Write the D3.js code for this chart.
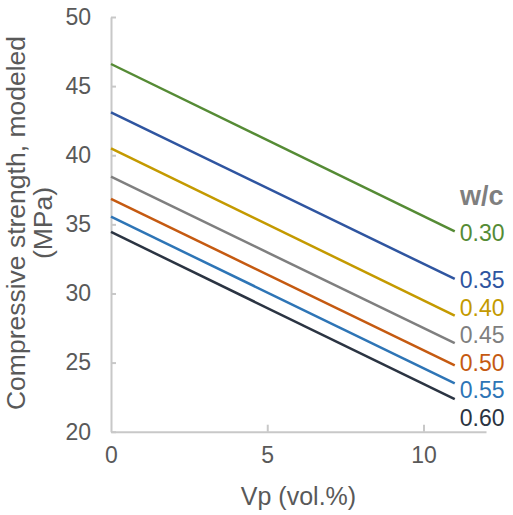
<!DOCTYPE html>
<html>
<head>
<meta charset="utf-8">
<script src="https://cdn.jsdelivr.net/npm/d3@7"></script>
<style>
  html, body { margin: 0; padding: 0; background: #fff; }
  svg { display: block; font-family: "Liberation Sans", Arial, sans-serif; }
</style>
</head>
<body>
<svg id="chart" width="513" height="515"></svg>
<script>
// ---- data ----
const seriesNames = ["0.30", "0.35", "0.40", "0.45", "0.50", "0.55", "0.60"];
const vpValues = [0, 11];
const strengthAt0 = [46.6, 43.1, 40.5, 38.45, 36.85, 35.55, 34.45];
const strengthAt11 = [34.5, 31.05, 28.4, 26.4, 24.8, 23.5, 22.35];
const colors = ["#558B35", "#2F55A0", "#C49A00", "#7F7F7F", "#C55A11", "#2E75B6", "#2B3442"];
const xTicks = [0, 5, 10];
const yTicks = [20, 25, 30, 35, 40, 45, 50];
const legendTitle = "w/c";
const xTitle = "Vp (vol.%)";
const yTitleLines = ["Compressive strength, modeled", "(MPa)"];

// ---- layout ----
const svg = d3.select("#chart");
const x = d3.scaleLinear().domain([0, 12]).range([111, 486]);
const y = d3.scaleLinear().domain([20, 50]).range([431.7, 17]);
const axisColor = "#C8C8C8";
const textColor = "#595959";
const font = "Liberation Sans, Arial, sans-serif";

// Y axis (inner ticks)
const yAxis = svg.append("g").attr("transform", `translate(${x(0)},0)`)
  .call(d3.axisLeft(y).tickValues(yTicks).tickSize(-5).tickPadding(20).tickSizeOuter(0));
yAxis.select(".domain").attr("stroke", axisColor).attr("stroke-width", 2);
yAxis.selectAll(".tick line").attr("stroke", axisColor).attr("stroke-width", 2);
yAxis.selectAll(".tick text").attr("fill", textColor).attr("font-size", 23)
  .attr("font-family", font);

// X axis (ticks pointing up)
const xAxis = svg.append("g").attr("transform", `translate(0,${y(20)})`)
  .call(d3.axisBottom(x).tickValues(xTicks).tickSize(-7).tickPadding(15).tickSizeOuter(0));
xAxis.select(".domain").attr("stroke", axisColor).attr("stroke-width", 2);
xAxis.selectAll(".tick line").attr("stroke", axisColor).attr("stroke-width", 2);
xAxis.selectAll(".tick line").filter(d => d === 0).remove();
xAxis.selectAll(".tick text").attr("fill", textColor).attr("font-size", 23)
  .attr("font-family", font);

// Lines
const line = d3.line().x(d => x(d[0])).y(d => y(d[1]));
seriesNames.forEach((name, i) => {
  const pts = [[vpValues[0], strengthAt0[i]], [vpValues[1], strengthAt11[i]]];
  svg.append("path").datum(pts)
    .attr("d", line).attr("fill", "none")
    .attr("stroke", colors[i]).attr("stroke-width", 2.5);
});

// Label de-overlap: cluster merging
const spacing = 27.5;
const desired = strengthAt11.map(v => y(v));
let clusters = desired.map((d, i) => ({ idx: [i], pos: d }));
let changed = true;
while (changed) {
  changed = false;
  for (let k = 0; k < clusters.length - 1; k++) {
    const a = clusters[k], b = clusters[k + 1];
    const aEnd = a.pos + (a.idx.length - 1) * spacing / 2;
    const bStart = b.pos - (b.idx.length - 1) * spacing / 2;
    if (bStart - aEnd < spacing) {
      const idx = a.idx.concat(b.idx);
      const mean = d3.mean(idx, j => desired[j]);
      clusters.splice(k, 2, { idx, pos: mean });
      changed = true;
      break;
    }
  }
}
const labelY = new Array(desired.length);
clusters.forEach(c => {
  const start = c.pos - (c.idx.length - 1) * spacing / 2;
  c.idx.forEach((j, n) => { labelY[j] = start + n * spacing; });
});

seriesNames.forEach((name, i) => {
  svg.append("text")
    .attr("x", x(vpValues[1]) + 5)
    .attr("y", labelY[i] + 9.5)
    .attr("fill", colors[i])
    .attr("font-size", 23)
    .text(name);
});

// Legend title
svg.append("text").attr("x", 460).attr("y", 205)
  .attr("fill", "#7F7F7F").attr("font-size", 27).attr("font-weight", "bold")
  .text(legendTitle);

// X title
svg.append("text").attr("x", (x(0) + x(12)) / 2).attr("y", 505)
  .attr("text-anchor", "middle").attr("fill", textColor).attr("font-size", 25)
  .text(xTitle);

// Y title
const yt = svg.append("text")
  .attr("transform", `translate(25,223) rotate(-90)`)
  .attr("text-anchor", "middle").attr("fill", textColor).attr("font-size", 26.5);
yt.append("tspan").attr("x", 0).attr("y", 0).text(yTitleLines[0]);
yt.append("tspan").attr("x", 0).attr("y", 27).text(yTitleLines[1]);
</script>
</body>
</html>
